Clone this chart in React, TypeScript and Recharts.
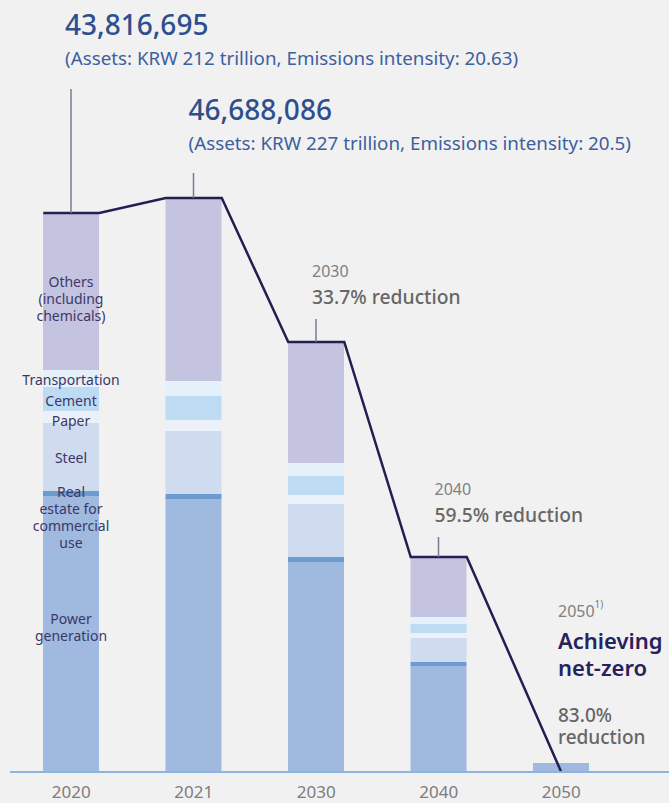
import React from "react";
import { ComposedChart, Bar, Line, XAxis, YAxis, LabelList } from "recharts";

// Financed emissions pathway (schematic, relative units per segment)
const years = ["2020", "2021", "2030", "2040", "2050"];
const power = [276, 273, 210, 106, 9];
const realEstate = [5, 5, 5, 4, 0];
const steel = [68, 63, 53, 24, 0];
const paper = [12, 11, 9, 5, 0];
const cement = [24, 24, 19, 9, 0];
const transport = [17, 15, 13, 7, 0];
const others = [157, 183, 121, 60, 0];
const netZeroYear = "2050";

const headlines = ["43,816,695", "46,688,086"];
const assetNotes = [
  "(Assets: KRW 212 trillion, Emissions intensity: 20.63)",
  "(Assets: KRW 227 trillion, Emissions intensity: 20.5)",
];
const reductions = ["", "", "33.7% reduction", "59.5% reduction", "83.0%"];

const W = 669;
const H = 803;
const M = { top: 172, right: 0, bottom: 0, left: 10 };
const PAD_RIGHT = 46.5;
const BAR = 56;
const FONT = "'Noto Sans', sans-serif";

const data = years.map((year, i) => ({
  year,
  power: power[i],
  realEstate: realEstate[i],
  steel: steel[i],
  paper: paper[i],
  cement: cement[i],
  transport: transport[i],
  others: others[i],
}));

function isNetZero(y: string) {
  return y === netZeroYear;
}
const totals = data.map((d) =>
  isNetZero(d.year) ? 0 : d.power + d.realEstate + d.steel + d.paper + d.cement + d.transport + d.others
);

// path runs across each bar top, then to zero at the net-zero year
const bandW = (W - M.left - M.right - PAD_RIGHT) / years.length;
const half = BAR / 2 / bandW;
const pathData: { x: number; v: number }[] = [];
years.forEach((y, i) => {
  if (isNetZero(y)) {
    pathData.push({ x: i + 0.5, v: 0 });
  } else {
    pathData.push({ x: i + 0.5 - half, v: totals[i] });
    pathData.push({ x: i + 0.5 + half, v: totals[i] });
  }
});

const segs = [
  { key: "power", color: "#a0b9df", lines: ["Power", "generation"], shift: -8 },
  { key: "realEstate", color: "#6c9bd2", lines: ["Real", "estate for", "commercial", "use"], shift: 23 },
  { key: "steel", color: "#cfdbee", lines: ["Steel"], shift: 0 },
  { key: "paper", color: "#ecf0f8", lines: ["Paper"], shift: 3 },
  { key: "cement", color: "#bddbf3", lines: ["Cement"], shift: 1 },
  { key: "transport", color: "#e4f0fa", lines: ["Transportation"], shift: 0 },
  { key: "others", color: "#c4c4e0", lines: ["Others", "(including", "chemicals)"], shift: 6 },
];

const box = (p: any) => {
  const vb = p.viewBox && p.viewBox.width !== undefined ? p.viewBox : p;
  return { x: Number(vb.x), y: Number(vb.y), w: Number(vb.width), h: Number(vb.height) };
};

const segLabel = (lines: string[], shift: number) => (p: any) => {
  if (p.index !== 0) return null;
  const b = box(p);
  const cx = b.x + b.w / 2;
  const lh = 17;
  const cy = b.y + b.h / 2 + shift - ((lines.length - 1) * lh) / 2;
  return (
    <text x={cx} y={cy} textAnchor="middle" dominantBaseline="central" fontFamily={FONT} fontSize={14} fill="#3c3768">
      {lines.map((l, k) => (
        <tspan key={k} x={cx} y={cy + k * lh}>
          {l}
        </tspan>
      ))}
    </text>
  );
};

const tickColor = "#7b7799";

const TopNote = (p: any) => {
  const i = p.index;
  const b = box(p);
  const cx = b.x + b.w / 2;
  const ty = b.y;
  if (i === 0 || i === 1) {
    const rise = i === 0 ? 124 : 25;
    const tx = i === 0 ? cx - 6 : cx - 5;
    const big = i === 0 ? ty - 178 : ty - 78;
    return (
      <g>
        <line x1={cx} x2={cx} y1={ty - rise} y2={ty} stroke={tickColor} strokeWidth={1.5} />
        <text x={tx} y={big} fontFamily={FONT} fontSize={28} fontWeight={500} fill="#2d4f8d">
          {headlines[i]}
        </text>
        <text x={tx} y={big + 30} fontFamily={FONT} fontSize={18.8} fill="#3d5f9f">
          {assetNotes[i]}
        </text>
      </g>
    );
  }
  if (i === 2 || i === 3) {
    const rise = i === 2 ? 23 : 20;
    const tx = cx - 4;
    return (
      <g>
        <line x1={cx} x2={cx} y1={ty - rise} y2={ty} stroke={tickColor} strokeWidth={1.5} />
        <text x={tx} y={ty - rise - 48} dominantBaseline="central" fontFamily={FONT} fontSize={16} fill="#808080">
          {years[i]}
        </text>
        <text x={tx} y={ty - rise - 23} dominantBaseline="central" fontFamily={FONT} fontSize={19.3} fontWeight={500} fill="#666666">
          {reductions[i]}
        </text>
      </g>
    );
  }
  return null;
};

const NetZeroNote = (p: any) => {
  if (p.index !== 4) return null;
  const b = box(p);
  const tx = b.x + b.w / 2 - 3;
  const ty = b.y;
  return (
    <g fontFamily={FONT}>
      <text x={tx} y={ty - 152} dominantBaseline="central" fontSize={16} fill="#808080">
        {years[4]}
        <tspan fontSize={10} dy={-7}>
          1)
        </tspan>
      </text>
      <text x={tx} y={ty - 123} dominantBaseline="central" fontSize={22} fontWeight={600} fill="#27225b">
        Achieving
      </text>
      <text x={tx} y={ty - 96} dominantBaseline="central" fontSize={22} fontWeight={600} fill="#27225b">
        net-zero
      </text>
      <text x={tx} y={ty - 48} dominantBaseline="central" fontSize={19} fontWeight={500} fill="#666666">
        {reductions[4]}
      </text>
      <text x={tx} y={ty - 26} dominantBaseline="central" fontSize={19} fontWeight={500} fill="#666666">
        reduction
      </text>
    </g>
  );
};

export default function App() {
  return (
    <div style={{ width: W, height: H, background: "#f1f1f1" }}>
      <style>{"body{margin:0}"}</style>
      <ComposedChart width={W} height={H} data={data} margin={M}>
        <XAxis
          xAxisId="cat"
          dataKey="year"
          height={31}
          padding={{ left: 0, right: PAD_RIGHT }}
          tickLine={false}
          axisLine={{ stroke: "#8db3df", strokeWidth: 2 }}
          tick={{ fill: "#7d7d7d", fontSize: 17, fontFamily: FONT }}
          tickMargin={8}
        />
        <XAxis
          xAxisId="num"
          dataKey="x"
          type="number"
          domain={[0, years.length]}
          allowDataOverflow
          padding={{ left: 0, right: PAD_RIGHT }}
          hide
        />
        <YAxis hide domain={[0, 600]} allowDataOverflow />
        {segs.map((s) => (
          <Bar
            key={s.key}
            xAxisId="cat"
            dataKey={s.key}
            stackId="a"
            fill={s.color}
            barSize={BAR}
            isAnimationActive={false}
          >
            <LabelList dataKey={s.key} content={segLabel(s.lines, s.shift)} />
            {s.key === "others" && <LabelList dataKey="others" content={TopNote} />}
            {s.key === "power" && <LabelList dataKey="power" content={NetZeroNote} />}
          </Bar>
        ))}
        <Line
          xAxisId="num"
          data={pathData}
          dataKey="v"
          type="linear"
          stroke="#231f52"
          strokeWidth={2.5}
          dot={false}
          activeDot={false}
          isAnimationActive={false}
        />
      </ComposedChart>
    </div>
  );
}
